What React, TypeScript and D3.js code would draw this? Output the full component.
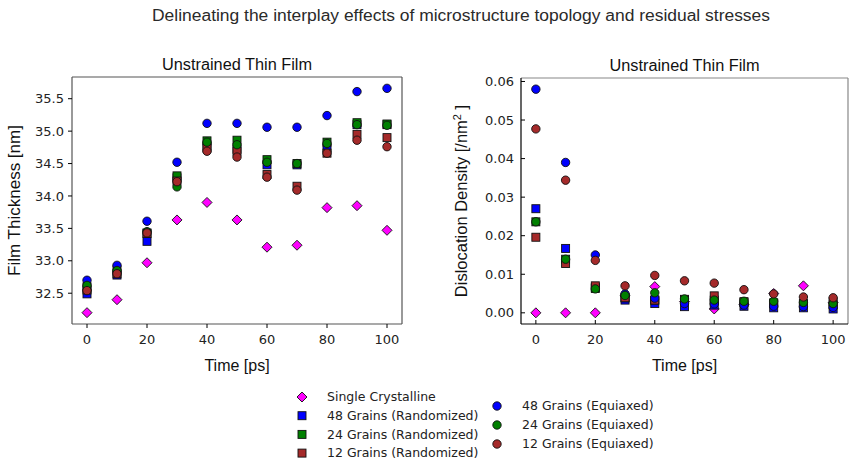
import React from "react";
import * as d3 from "d3";

// Time samples shared by every series
const times = [0, 10, 20, 30, 40, 50, 60, 70, 80, 90, 100];

// Film thickness [nm]
const thickSingle = [32.2, 32.4, 32.97, 33.63, 33.9, 33.63, 33.21, 33.24, 33.82, 33.85, 33.47];
const thick48R = [32.49, 32.78, 33.3, 34.28, 34.77, 34.72, 34.48, 34.48, 34.74, 35.1, 35.1];
const thick24R = [32.6, 32.86, 33.43, 34.31, 34.85, 34.86, 34.56, 34.5, 34.83, 35.13, 35.11];
const thick12R = [32.55, 32.8, 33.42, 34.23, 34.74, 34.69, 34.33, 34.15, 34.66, 34.95, 34.9];
const thick48E = [32.7, 32.93, 33.61, 34.52, 35.12, 35.12, 35.06, 35.06, 35.24, 35.61, 35.66];
const thick24E = [32.62, 32.85, 33.45, 34.14, 34.83, 34.79, 34.52, 34.5, 34.81, 35.1, 35.09];
const thick12E = [32.54, 32.8, 33.43, 34.22, 34.69, 34.6, 34.29, 34.09, 34.66, 34.86, 34.76];

// Dislocation density [/nm^2]
const densSingle = [0, 0, 0, 0.0044, 0.0068, 0.0029, 0.001, 0.0022, 0.005, 0.007, 0.0026];
const dens48R = [0.027, 0.0167, 0.0066, 0.0033, 0.0024, 0.0016, 0.002, 0.0017, 0.0013, 0.0013, 0.001];
const dens24R = [0.0236, 0.0139, 0.0063, 0.0039, 0.0033, 0.0033, 0.0033, 0.0027, 0.0026, 0.0023, 0.0021];
const dens12R = [0.0196, 0.0128, 0.007, 0.0039, 0.0033, 0.0035, 0.0044, 0.0029, 0.0024, 0.0024, 0.0029];
const dens48E = [0.058, 0.039, 0.015, 0.0049, 0.0038, 0.0024, 0.0023, 0.002, 0.0017, 0.0016, 0.0014];
const dens24E = [0.0236, 0.0139, 0.0062, 0.0045, 0.0052, 0.0036, 0.0033, 0.003, 0.003, 0.0027, 0.0024];
const dens12E = [0.0477, 0.0344, 0.0136, 0.007, 0.0097, 0.0083, 0.0077, 0.006, 0.0049, 0.0041, 0.0039];

const seriesNames = [
  "Single Crystalline",
  "48 Grains (Randomized)",
  "24 Grains (Randomized)",
  "12 Grains (Randomized)",
  "48 Grains (Equiaxed)",
  "24 Grains (Equiaxed)",
  "12 Grains (Equiaxed)",
];
const seriesColors = ["#ff00ff", "#0000ff", "#008000", "#a52a2a", "#0000ff", "#008000", "#a52a2a"];
const seriesShapes = ["diamond", "square", "square", "square", "circle", "circle", "circle"];

const thicknessSeries = [thickSingle, thick48R, thick24R, thick12R, thick48E, thick24E, thick12E];
const densitySeries = [densSingle, dens48R, dens24R, dens12R, dens48E, dens24E, dens12E];

const xTicks = [0, 20, 40, 60, 80, 100];
const thickTicks = [32.5, 33.0, 33.5, 34.0, 34.5, 35.0, 35.5];
const densTicks = [0, 0.01, 0.02, 0.03, 0.04, 0.05, 0.06];

const FONT = "DejaVu Sans, sans-serif";
const LABEL_FONT = "Liberation Sans, Arial, sans-serif";

function Marker({ shape, x, y, color }: { shape: string; x: number; y: number; color: string }) {
  const sw = 0.9;
  if (shape === "circle") {
    return <circle cx={x} cy={y} r={4.2} fill={color} stroke="#111" strokeWidth={sw} />;
  }
  if (shape === "square") {
    return <rect x={x - 4} y={y - 4} width={8} height={8} fill={color} stroke="#111" strokeWidth={sw} />;
  }
  const r = 5;
  return (
    <path
      d={`M${x},${y - r}L${x + r},${y}L${x},${y + r}L${x - r},${y}Z`}
      fill={color}
      stroke="#111"
      strokeWidth={sw}
    />
  );
}

type PanelProps = {
  left: number;
  right: number;
  top: number;
  bottom: number;
  yDomain: [number, number];
  yTicks: number[];
  yFormat: (v: number) => string;
  series: number[][];
  yLabel: React.ReactNode;
  yLabelX: number;
  yLabelSize: number;
  tickIn: boolean;
};

function Panel(p: PanelProps) {
  const x = d3.scaleLinear().domain([-5, 105]).range([p.left, p.right]);
  const y = d3.scaleLinear().domain(p.yDomain).range([p.bottom, p.top]);
  const tl = 4;
  const spineMain = p.tickIn ? "#000" : "#555";
  const spineOther = p.tickIn ? "#888" : "#555";
  const cx = (p.left + p.right) / 2;
  const cy = (p.top + p.bottom) / 2;
  return (
    <g>
      <text
        x={cx}
        y={p.top - 7}
        textAnchor="middle"
        fontFamily={LABEL_FONT}
        fontSize={16}
        textLength={150}
        lengthAdjust="spacingAndGlyphs"
        fill="#111"
      >
        Unstrained Thin Film
      </text>
      {p.series.map((vals, si) =>
        vals.map((v, i) => (
          <Marker key={`${si}-${i}`} shape={seriesShapes[si]} x={x(times[i])} y={y(v)} color={seriesColors[si]} />
        ))
      )}
      {/* spines */}
      <line x1={p.left} x2={p.right} y1={p.top} y2={p.top} stroke={spineOther} strokeWidth={1.2} />
      <line x1={p.right} x2={p.right} y1={p.top} y2={p.bottom} stroke={spineOther} strokeWidth={1.2} />
      <line x1={p.left} x2={p.left} y1={p.top} y2={p.bottom} stroke={spineMain} strokeWidth={1.2} />
      <line x1={p.left} x2={p.right} y1={p.bottom} y2={p.bottom} stroke={spineMain} strokeWidth={1.2} />
      {xTicks.map((t) => (
        <g key={`x${t}`}>
          <line
            x1={x(t)}
            x2={x(t)}
            y1={p.bottom}
            y2={p.tickIn ? p.bottom - tl : p.bottom + tl}
            stroke="#000"
            strokeWidth={1}
          />
          <text x={x(t)} y={p.bottom + 20} textAnchor="middle" fontFamily={FONT} fontSize={13} fill="#222">
            {t}
          </text>
        </g>
      ))}
      {p.yTicks.map((t) => (
        <g key={`y${t}`}>
          <line
            x1={p.left}
            x2={p.tickIn ? p.left + tl : p.left - tl}
            y1={y(t)}
            y2={y(t)}
            stroke="#000"
            strokeWidth={1}
          />
          <text
            x={p.tickIn ? p.left - 7 : p.left - 8}
            y={y(t)}
            dy="0.35em"
            textAnchor="end"
            fontFamily={FONT}
            fontSize={13}
            fill="#222"
          >
            {p.yFormat(t)}
          </text>
        </g>
      ))}
      <text x={cx} y={p.bottom + 47} textAnchor="middle" fontFamily={LABEL_FONT} fontSize={16} fill="#111">
        Time [ps]
      </text>
      <text
        transform={`translate(${p.yLabelX},${cy}) rotate(-90)`}
        textAnchor="middle"
        fontFamily={LABEL_FONT}
        fontSize={p.yLabelSize}
        fill="#111"
      >
        {p.yLabel}
      </text>
    </g>
  );
}

export default function App() {
  const legendCol1 = [0, 1, 2, 3];
  const legendCol2 = [4, 5, 6];
  return (
    <svg width={858} height={467} style={{ display: "block", position: "absolute", left: 0, top: 0 }}>
      <rect width={858} height={467} fill="#fff" />
      <text
        x={461}
        y={21}
        textAnchor="middle"
        fontFamily={LABEL_FONT}
        fontSize={16}
        textLength={618}
        lengthAdjust="spacingAndGlyphs"
        fill="#2a2a2a"
      >
        Delineating the interplay effects of microstructure topology and residual stresses
      </text>
      <Panel
        left={72}
        right={402}
        top={77}
        bottom={324}
        yDomain={[32.025, 35.835]}
        yTicks={thickTicks}
        yFormat={(v) => v.toFixed(1)}
        series={thicknessSeries}
        yLabel="Film Thickness [nm]"
        yLabelX={20}
        yLabelSize={17}
        tickIn={false}
      />
      <Panel
        left={521}
        right={848}
        top={78}
        bottom={324}
        yDomain={[-0.0029, 0.0609]}
        yTicks={densTicks}
        yFormat={(v) => v.toFixed(2)}
        series={densitySeries}
        yLabel={
          <>
            Dislocation Density [/nm
            <tspan dy={-6} fontSize={11}>
              2
            </tspan>
            <tspan dy={6}> ]</tspan>
          </>
        }
        yLabelX={467}
        yLabelSize={16.5}
        tickIn={true}
      />
      {legendCol1.map((si, i) => (
        <g key={`l${si}`}>
          <Marker shape={seriesShapes[si]} x={302} y={397 + i * 18.7} color={seriesColors[si]} />
          <text x={327} y={397 + i * 18.7} dy="0.35em" fontFamily={FONT} fontSize={12.5} fill="#222">
            {seriesNames[si]}
          </text>
        </g>
      ))}
      {legendCol2.map((si, i) => (
        <g key={`l${si}`}>
          <Marker shape={seriesShapes[si]} x={497} y={406 + i * 19} color={seriesColors[si]} />
          <text x={522} y={406 + i * 19} dy="0.35em" fontFamily={FONT} fontSize={12.5} fill="#222">
            {seriesNames[si]}
          </text>
        </g>
      ))}
    </svg>
  );
}
